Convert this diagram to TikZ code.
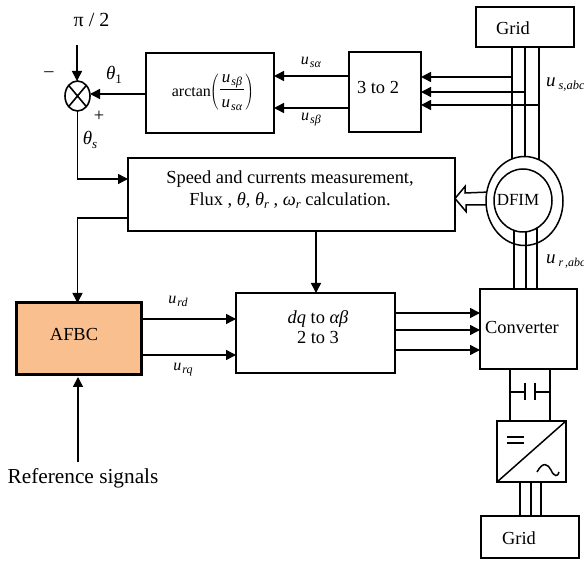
\documentclass[tikz,border=0pt]{standalone}
\usepackage{fontspec}
\setmainfont{Liberation Serif}
\usetikzlibrary{arrows.meta,shapes.geometric,calc}
\definecolor{afbcfill}{HTML}{FABF8F}
\newcommand{\usub}[3][15]{\mbox{\fontsize{#1}{#1}\selectfont\textit{u}\kern1pt\raisebox{-3pt}{\fontsize{#3}{#3}\selectfont\textit{#2}}}}
\newcommand{\thsub}[2]{\mbox{\textit{#1}\raisebox{-2.5pt}{\fontsize{12.5}{12.5}\selectfont\textit{#2}}}}
\tikzset{
  x=1pt,y=-1pt,
  wire/.style={line width=1.5pt,line cap=butt},
  arr/.style={wire,-{Triangle[length=10pt,width=10pt]}},
  blockbox/.style={draw,line width=1.5pt,rectangle,inner sep=0pt,outer sep=0pt,align=center},
  lab/.style={inner sep=0pt,outer sep=0pt,font=\fontsize{18.4}{22}\selectfont},
  sublab/.style={inner sep=0pt,outer sep=0pt},
}
\begin{document}
\begin{tikzpicture}
\useasboundingbox (0,0) rectangle (584,561);
% blocks
\node[blockbox,minimum width=128pt,minimum height=80pt] (arctan) at (210,93) {};
\node[blockbox,minimum width=72pt,minimum height=80pt] (three) at (385,92) {};
\node[blockbox,minimum width=98pt,minimum height=40pt] (gridtop) at (525,27) {};
\node[blockbox,minimum width=327pt,minimum height=73pt] (meas) at (291.5,194.5) {};
\node[blockbox,line width=3pt,fill=afbcfill,minimum width=125pt,minimum height=72pt] (afbc) at (78.5,339) {} ;
\node[blockbox,minimum width=159pt,minimum height=80pt] (dq) at (315.5,333) {};
\node[blockbox,minimum width=97pt,minimum height=80pt] (conv) at (528.5,329) {};
\node[blockbox,minimum width=69pt,minimum height=61pt] (inv) at (531.5,451.5) {};
\node[blockbox,minimum width=98pt,minimum height=42pt] (gridbot) at (530,537) {};
\node[draw,ellipse,line width=1.6pt,minimum width=25pt,minimum height=30pt,inner sep=0pt,outer sep=0pt] (sum) at (77.5,96) {};
\draw[line width=1.6pt] (sum.north west) -- (sum.south east) (sum.north east) -- (sum.south west);
% texts in blocks
\node[lab,font=\fontsize{16}{20}\selectfont] (arctxt) at (213,92) {arctan\kern-1pt$\left(\vcenter{\hbox{$\frac{\rule[-5pt]{0pt}{14pt}\,\usub[17]{sβ}{12}\,}{\rule{0pt}{18pt}\,\usub[17]{sα}{12}\,}$}}\right)$};
\node[lab] (threetxt) at (378,88) {3 to 2};
\node[lab] (gridtoptxt) at (513,28) {Grid};
\node[lab,align=center,font=\fontsize{18.4}{22}\selectfont] (meastxt) at (290,190) {Speed and currents measurement,\\Flux , \textit{θ}, \thsub{θ}{r} , \thsub{ω}{r} calculation.};
\node[lab] (afbctxt) at (74,334) {AFBC};
\node[lab,align=center,font=\fontsize{18.4}{20}\selectfont] (dqtxt) at (318,327) {\textit{dq} to \textit{αβ}\\2 to 3};
\node[lab] (convtxt) at (522,327) {Converter};
\node[lab] (gridbottxt) at (519,538) {Grid};
% stator wires
\coordinate (dfimc) at (524.5,201);
\foreach \n/\wx/\wy in {a/512/77,b/525/92,c/539/105}{
  \draw[wire] (\wx,0 |- gridtop.south) -- (\wx,190);
  \draw[arr] (\wx,\wy) -- (three.east |- 0,\wy);
}
% hollow arrow
\coordinate (hollowtail) at (490,198.5);
\coordinate (hollowtip) at (meas.east |- hollowtail);
\draw[line width=1.5pt,fill=white] (hollowtip) -- ++(10,-12) -- ++(0,6.5) -- (490,192) -- (490,205) -- (466,205) -- ++(0,6.5) -- cycle;
% machine
\node[draw,ellipse,fill=white,line width=1.5pt,minimum width=77pt,minimum height=89pt,inner sep=0pt,outer sep=0pt] (dfimo) at (dfimc) {};
\foreach \wx in {514,526,537}{
  \draw[wire] (\wx,220) -- (\wx,0 |- conv.north);
}
\node[draw,ellipse,fill=white,line width=1.5pt,minimum width=58pt,minimum height=63pt,inner sep=0pt,outer sep=0pt] (dfimi) at (523,200.5) {};
\node[lab,font=\fontsize{17}{20}\selectfont] (dfimtxt) at (518,200) {DFIM};
% connectors
\draw[arr] (three.west |- 0,76) -- (arctan.east |- 0,76);
\draw[arr] (three.west |- 0,108) -- (arctan.east |- 0,108);
\draw[arr] (arctan.west |- 0,94) -- (sum.east |- 0,94);
\coordinate (piend) at (77,45);
\draw[arr] (piend) -- (sum.north -| piend);
\draw[arr] (sum.south) -- (77.5,179) -- (meas.west |- 0,179);
\draw[arr] (meas.west |- 0,218) -- (77.5,218) -- (afbc.north -| 77.5,0);
\coordinate (refend) at (78,462);
\draw[arr] (refend) -- (78,377);
\draw[arr] (meas.south -| 316,0) -- (dq.north -| 316,0);
\draw[arr] (afbc.east |- 0,319) -- (dq.west |- 0,319);
\draw[arr] (afbc.east |- 0,355) -- (dq.west |- 0,355);
\foreach \wy in {313,330,350}{
  \draw[arr] (dq.east |- 0,\wy) -- (conv.west |- 0,\wy);
}
% dc link
\draw[wire] (510,0 |- conv.south) -- (510,0 |- inv.north);
\draw[wire] (550,0 |- conv.south) -- (550,0 |- inv.north);
\draw[wire] (510,392) -- (525,392) (525,383) -- (525,400);
\draw[wire] (550,392) -- (535,392) (535,383) -- (535,400);
% inverter
\draw[wire] (inv.south west) -- (inv.north east);
\draw[wire] (507,437) -- (524,437) (507,443) -- (524,443);
\draw[wire] (537,472) .. controls (543,461) and (548,464) .. (551,470) .. controls (554,477) and (558,477) .. (559,472);
\foreach \wx in {520,531,541}{
  \draw[wire] (\wx,0 |- inv.south) -- (\wx,0 |- gridbot.north);
}
% labels
\node[sublab,font=\fontsize{20}{20}\selectfont] (pilab) at (91.5,20) {π / 2};
\node[lab] (minus) at (49,74) {–};
\node[lab,font=\fontsize{19}{19}\selectfont] (th1) at (114,75) {\mbox{\textit{θ}\raisebox{-3.5pt}{\fontsize{13}{13}\selectfont 1}}};
\node[lab] (plus) at (99,116) {+};
\node[lab,font=\fontsize{19}{19}\selectfont] (ths) at (90,140) {\mbox{\textit{θ}\raisebox{-3.5pt}{\fontsize{13}{13}\selectfont\textit{s}}}};
\node[sublab] (usa) at (311,62) {\usub[16]{sα}{12}};
\node[sublab] (usb) at (311,120) {\usub[16]{sβ}{12}};
\node[sublab,anchor=west] (usabc) at (546,85) {\usub[19]{\,s,abc}{12.5}};
\node[sublab,anchor=west] (urabc) at (546,262) {\usub[19]{\,r\,,abc}{12}};
\node[sublab] (urd) at (178,301) {\usub[16]{rd}{12}};
\node[sublab] (urq) at (183,370) {\usub[16]{rq}{12}};
\node[lab,font=\fontsize{21.3}{21.3}\selectfont] (refsig) at (83,478) {Reference signals};
\end{tikzpicture}
\end{document}
